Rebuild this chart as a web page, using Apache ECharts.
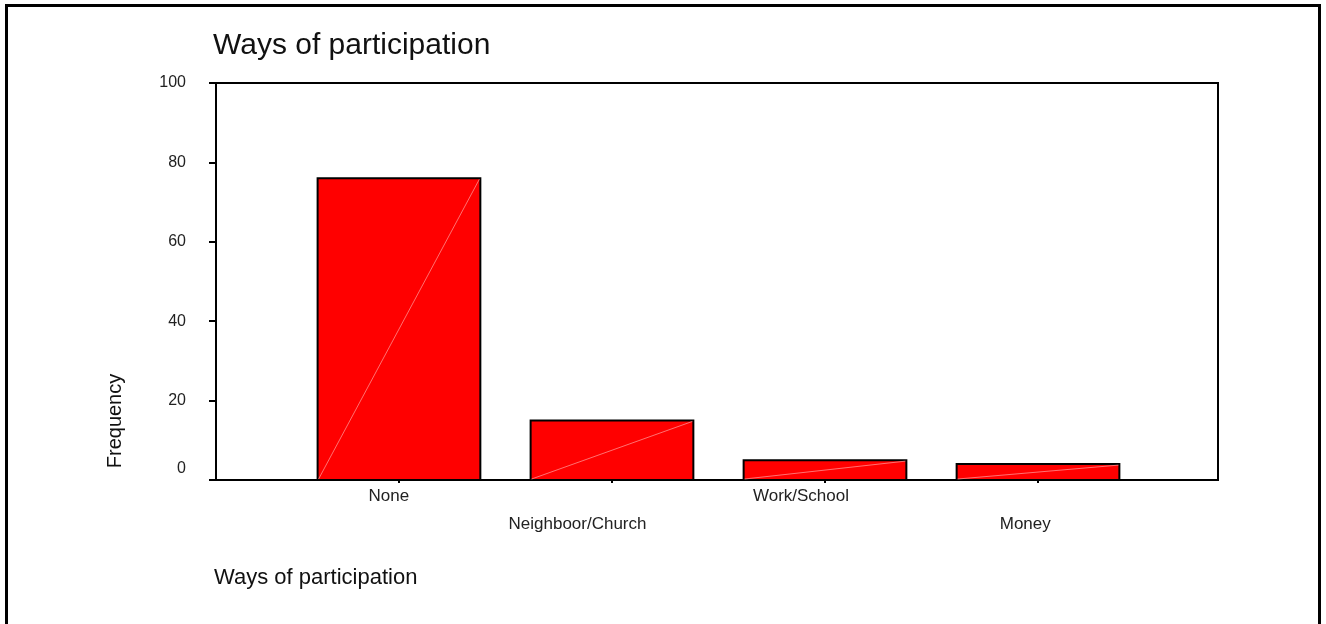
<!DOCTYPE html>
<html>
<head>
<meta charset="utf-8">
<script src="https://cdn.jsdelivr.net/npm/echarts@6/dist/echarts.min.js"></script>
<style>
  html, body { margin: 0; padding: 0; background: #fff; }
  #chart { width: 1326px; height: 624px; }
</style>
</head>
<body>
<div id="chart"></div>
<script>
// ---- data ----
const chartTitle = 'Ways of participation';
const xAxisTitle = 'Ways of participation';
const yAxisTitle = 'Frequency';
const categories = ['None', 'Neighboor/Church', 'Work/School', 'Money'];
const frequencies = [76, 15, 5, 4];
const yMin = 0, yMax = 100, yStep = 20;

const FONT = '"Liberation Sans", Arial, Helvetica, sans-serif';
const X_LABEL_SIZE = 17;

// measure label widths (to reproduce the label offsets of the original)
const mctx = document.createElement('canvas').getContext('2d');
mctx.font = X_LABEL_SIZE + 'px ' + FONT;
const rich = {};
categories.forEach((c, i) => {
  const w = mctx.measureText(c).width;
  rich['c' + i] = { fontSize: X_LABEL_SIZE, fontFamily: FONT, color: '#222', lineHeight: 28, padding: [0, w / 2, 0, 0] };
});

const seriesData = frequencies.map((v, i) => [i, v]);
const HALF = 0.382;

const chart = echarts.init(document.getElementById('chart'), null, { renderer: 'canvas' });
chart.setOption({
  animation: false,
  backgroundColor: '#fff',
  title: [
    { text: chartTitle, left: 213, top: 31, padding: 0,
      textStyle: { fontFamily: FONT, fontSize: 30, fontWeight: 'normal', color: '#111' } },
    { text: xAxisTitle, left: 214, top: 567, padding: 0,
      textStyle: { fontFamily: FONT, fontSize: 22, fontWeight: 'normal', color: '#111' } }
  ],
  graphic: [
    { type: 'rect', silent: true, z: -1,
      shape: { x: 6.5, y: 5.5, width: 1313, height: 700 },
      style: { fill: null, stroke: '#000', lineWidth: 3 } },
    { type: 'text', silent: true, x: 115, y: 421, rotation: Math.PI / 2,
      style: { text: yAxisTitle, fontFamily: FONT, fontSize: 20, fill: '#111',
               align: 'center', verticalAlign: 'middle' } }
  ],
  grid: {
    left: 216, right: 108, top: 83, bottom: 144,
    show: true, borderColor: '#000', borderWidth: 2, backgroundColor: 'transparent'
  },
  xAxis: {
    type: 'value',
    min: -0.859, max: 3.845,
    splitLine: { show: false },
    axisLine: { show: true, onZero: false, lineStyle: { color: '#000', width: 2 } },
    axisTick: { show: true, customValues: [0, 1, 2, 3], length: 3, lineStyle: { color: '#000', width: 2 } },
    axisLabel: {
      customValues: [0, 1, 2, 3],
      margin: 2,
      lineHeight: 28,
      fontSize: X_LABEL_SIZE, fontFamily: FONT, color: '#222',
      formatter: function (val) {
        const i = Math.round(val);
        return (i % 2 ? '\n' : '') + '{c' + i + '|' + categories[i] + '}';
      },
      rich: rich
    }
  },
  yAxis: {
    type: 'value',
    min: yMin, max: yMax, interval: yStep,
    splitLine: { show: false },
    axisLine: { show: true, onZero: false, lineStyle: { color: '#000', width: 2 } },
    axisTick: { show: true, length: 7, lineStyle: { color: '#000', width: 2 } },
    axisLabel: {
      margin: 30, fontSize: 16, fontFamily: FONT, color: '#222',
      formatter: function (v) { return v === 0 ? '{z|0}' : String(v); },
      rich: { z: { fontSize: 16, fontFamily: FONT, color: '#222', padding: [0, 0, 22, 0] } }
    }
  },
  series: [{
    type: 'custom',
    data: seriesData,
    encode: { x: 0, y: 1 },
    renderItem: function (params, api) {
      const c = api.value(0), v = api.value(1);
      const tl = api.coord([c - HALF, v]);
      const br = api.coord([c + HALF, 0]);
      return {
        type: 'group',
        children: [
          { type: 'rect',
            shape: { x: tl[0], y: tl[1], width: br[0] - tl[0], height: br[1] - tl[1] },
            style: { fill: '#ff0000', stroke: '#000', lineWidth: 2 } },
          { type: 'line',
            shape: { x1: tl[0] + 1, y1: br[1] - 1, x2: br[0] - 1, y2: tl[1] + 1 },
            style: { stroke: 'rgba(255,150,150,0.75)', lineWidth: 1 } }
        ]
      };
    }
  }]
});
</script>
</body>
</html>
